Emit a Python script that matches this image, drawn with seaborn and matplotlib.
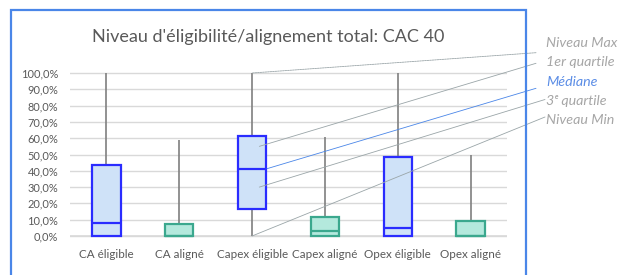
import numpy as np
import pandas as pd
import seaborn as sns
import matplotlib.pyplot as plt
from matplotlib.patches import Rectangle
from matplotlib.ticker import FuncFormatter

categories = ["CA éligible", "CA aligné", "Capex éligible", "Capex aligné", "Opex éligible", "Opex aligné"]
kinds = ["éligible", "aligné", "éligible", "aligné", "éligible", "aligné"]
mins = [0.0, 0.0, 0.0, 0.0, 0.0, 0.0]
q1s = [0.0, 0.0, 16.5, 0.0, 0.0, 0.0]
medians = [8.0, 0.0, 41.3, 3.2, 5.1, 0.0]
q3s = [43.5, 7.4, 61.3, 11.8, 48.6, 9.4]
maxs = [100.0, 59.0, 100.0, 61.0, 100.0, 50.0]

title = "Niveau d'éligibilité/alignement total: CAC 40"
legend_labels = ["Niveau Max", "1er quartile", "Médiane", "3\u1d49 quartile", "Niveau Min"]

# five-number rows -> boxplot with whiskers at min/max
rows = []
for c, k, a, b, m, d, e in zip(categories, kinds, mins, q1s, medians, q3s, maxs):
    for v in (a, b, m, d, e):
        rows.append({"cat": c, "kind": k, "val": v / 100.0})
df = pd.DataFrame(rows)

W, H = 624, 275
fig = plt.figure(figsize=(W / 100, H / 100), dpi=100)
plt.rcParams['font.family'] = ['Lato', 'DejaVu Sans']

ylo, yhi = -0.01, 1.01
pix_per = 163.0
ax_bottom_px = 236 + (0 - ylo) * pix_per
ax_top_px = 73 - (yhi - 1) * pix_per
ax = fig.add_axes([70 / W, 1 - ax_bottom_px / H, 437 / W, (ax_bottom_px - ax_top_px) / H])

fill = {"éligible": "#cfe2f8", "aligné": "#b4e9dd"}
edge = {"éligible": "#2a2cff", "aligné": "#3ba88e"}

sns.boxplot(data=df, x="cat", y="val", hue="kind", order=categories,
            hue_order=["éligible", "aligné"], palette=fill, dodge=False,
            whis=(0, 100), showcaps=False, width=0.39, linecolor="#7f7f7f",
            linewidth=1.3, legend=False, ax=ax, saturation=1)

for cont, k in zip(ax.containers, ["éligible", "aligné"]):
    for bx in cont.boxes:
        bx.set_edgecolor(edge[k])
        bx.set_linewidth(1.6)
        bx.set_zorder(3)
        bx.set_clip_on(False)
    for md in cont.medians:
        md.set_color(edge[k])
        md.set_linewidth(1.6)
        md.set_zorder(4)
        md.set_clip_on(False)
    for wh in cont.whiskers:
        wh.set_linewidth(1.2)
        wh.set_zorder(2)

ax.set_ylim(ylo, yhi)
ax.set_xlim(-0.5, 5.5)
ax.set_yticks(np.arange(0, 1.01, 0.1))
ax.yaxis.set_major_formatter(FuncFormatter(lambda v, p: f"{v*100:.1f}%".replace(".", ",")))
ax.grid(axis='y', color="#d9d9d9", linewidth=1.0, zorder=0)
ax.set_axisbelow(True)
for s in ["top", "right", "left", "bottom"]:
    ax.spines[s].set_visible(False)
ax.axhline(0, color="#d9d9d9", linewidth=1.2, zorder=1)
ax.tick_params(axis='both', length=0, colors="#595959")
ax.tick_params(axis='y', labelsize=7.9, pad=8.5)
ax.tick_params(axis='x', labelsize=8.4, pad=8.5)
ax.set_xlabel("")
ax.set_ylabel("")

fig.text(268.5 / W, 1 - 37 / H, title, ha='center', va='center', fontsize=13.0, color="#595959")

# explanatory callouts on the "Capex éligible" box
anchors = [(0.0, maxs[2] / 100), (0.10, 0.55), (0.205, medians[2] / 100), (0.10, 0.30), (0.0, mins[2] / 100)]
ends = [(536, 52.7), (536, 63.3), (536, 88.3), (545, 99.5), (545, 117.0)]
label_y = [43.0, 62.3, 82.3, 101.0, 120.0]
lcols = ["#a6a6a6", "#a6a6a6", "#5b8de6", "#a6a6a6", "#a6a6a6"]
linecols = ["#9aa5a8", "#9aa5a8", "#4a86e8", "#9aa5a8", "#9aa5a8"]
styles = [(0, (2, 1)), '-', '-', '-', '-']
for (dx, yv), (ex, ey), ly, lc, lnc, ls, lab in zip(anchors, ends, label_y, lcols, linecols, styles, legend_labels):
    ax.annotate("", xy=(2 + dx, yv), xycoords='data', xytext=(ex, H - ey), textcoords='figure pixels',
                arrowprops=dict(arrowstyle='-', color=lnc, lw=0.6, linestyle=ls, shrinkA=0, shrinkB=0),
                annotation_clip=False, zorder=5)
    fig.text(546 / W, 1 - ly / H, lab, ha='left', va='center', fontsize=10.3, color=lc, style='italic')

fig.patches.append(Rectangle((11 / W, -0.05), (526 - 11) / W, (H - 10) / H + 0.05,
                             transform=fig.transFigure, fill=False, edgecolor="#4a86e8",
                             linewidth=1.6, zorder=10))

fig.savefig("out.png", dpi=100)
